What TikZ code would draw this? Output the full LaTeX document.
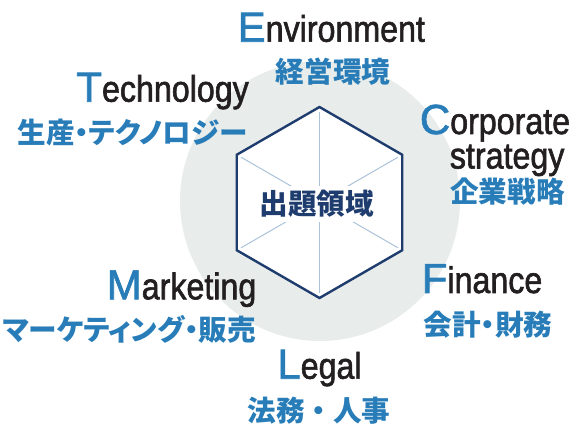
\documentclass[tikz,border=0pt]{standalone}
\usepackage{fontspec}
\usetikzlibrary{calc}
\setmainfont{Liberation Sans}
\newfontfamily\capfont[FakeBold=1.6]{Liberation Sans}
\newfontfamily\latinfont[FakeStretch=0.87,FakeBold=1.6]{Liberation Sans}
\newfontfamily\jpfont[RawFeature=+palt]{Noto Sans CJK JP}
\newfontfamily\jpwide{Noto Sans CJK JP}

\definecolor{capblue}{RGB}{40,125,185}
\definecolor{inkblack}{RGB}{35,31,32}
\definecolor{ringgray}{RGB}{232,236,234}
\definecolor{hexnavy}{RGB}{30,60,110}
\definecolor{spokeblue}{RGB}{170,195,218}

\newcommand{\initcap}[1]{{\capfont\fontsize{42}{42}\selectfont\color{capblue}#1}}
\newcommand{\restword}[1]{{\latinfont\fontsize{37}{37}\selectfont\color{inkblack}#1}}

\tikzset{
  enlabel/.style={inner sep=0pt},
  jplabel/.style={inner sep=0pt,text=capblue,font=\jpfont\bfseries\fontsize{28.6}{28.6}\selectfont},
  spoke/.style={draw=spokeblue,line width=1pt,shorten <=5pt},
}

\begin{document}
\begin{tikzpicture}[x=1pt,y=-1pt]
\useasboundingbox (0,0) rectangle (571,425);
\coordinate (hexc) at (319.5,202.5);
% gray ring
\fill[ringgray] (320,201) circle[radius=140];
% hexagon
\foreach \a [count=\i] in {90,150,210,270,330,30}
  \coordinate (v\i) at ($(hexc)+(\a:95.5)$);
\fill[white] (v1) -- (v2) -- (v3) -- (v4) -- (v5) -- (v6) -- cycle;
\foreach \i in {1,...,6}
  \draw[spoke] (v\i) -- (hexc);
\draw[hexnavy,line width=2.4pt,line join=miter] (v1) -- (v2) -- (v3) -- (v4) -- (v5) -- (v6) -- cycle;
\node[fill=white,inner sep=4pt,text=hexnavy,font=\jpwide\bfseries\fontsize{28.6}{28.6}\selectfont,anchor=base] (domain) at (316.7,214.7) {出題領域};

% labels
\node[enlabel,anchor=base west] (env) at (237.5,41.7) {\initcap{E}\restword{nvironment}};
\node[jplabel,anchor=base] (envjp) at (333,83) {経営環境};

\node[enlabel,anchor=base west,text depth=0pt] (corp) at (419.7,134) {\initcap{C}\restword{orporate}};
\node[enlabel,anchor=base west,text height=20pt] (strat) at (449.7,168.5) {\restword{strategy}};
\node[jplabel,anchor=base west] (corpjp) at (450,203) {企業戦略};

\node[enlabel,anchor=base east] (tech) at (249,101.7) {\initcap{T}\restword{echnology}};
\node[jplabel,anchor=base east] (techjp) at (247.5,144) {生産・テクノロジー};

\node[enlabel,anchor=base west] (fin) at (421.6,293) {\initcap{F}\restword{inance}};
\node[jplabel,anchor=base west] (finjp) at (423.5,335) {会計・財務};

\node[enlabel,anchor=base east] (mkt) at (256.5,299.3) {\initcap{M}\restword{arketing}};
\node[jplabel,anchor=base east] (mktjp) at (256,340) {マーケティング・販売};

\node[enlabel,anchor=base] (legal) at (319.5,378.7) {\initcap{L}\restword{egal}};
\node[jplabel,font=\jpwide\bfseries\fontsize{28.6}{28.6}\selectfont,anchor=base] (legaljp) at (319,421.7) {法務・人事};
\end{tikzpicture}
\end{document}
